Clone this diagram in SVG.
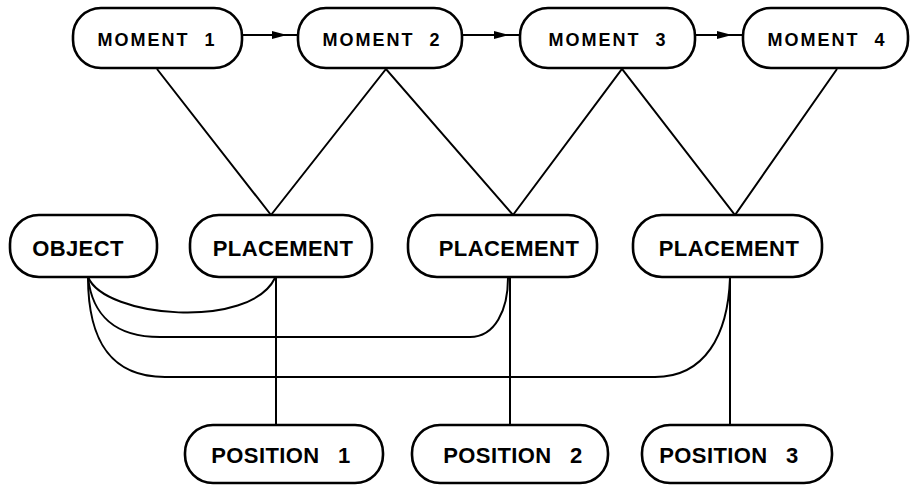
<svg xmlns="http://www.w3.org/2000/svg" width="915" height="486" viewBox="0 0 915 486">
  <style>
    .box { fill: #fff; stroke: #000; stroke-width: 2.6; }
    .wire { fill: none; stroke: #000; stroke-width: 2; }
    .lbl { font-family: "Liberation Sans", Arial, sans-serif; font-weight: bold; fill: #000; text-anchor: middle; }
    .m { font-size: 18px; letter-spacing: 2px; }
    .p { font-size: 22px; letter-spacing: 0.4px; }
  </style>
  <defs>
    <marker id="arrow" markerUnits="userSpaceOnUse" markerWidth="16" markerHeight="10" refX="26" refY="4" orient="auto">
      <path d="M0,0 L15,4 L0,8 z" fill="#000"/>
    </marker>
  </defs>
  <rect width="915" height="486" fill="#fff"/>

  <g id="connectors">
    <!-- time sequence -->
    <path class="wire" d="M242,35 L298,35" marker-end="url(#arrow)"/>
    <path class="wire" d="M462,35 L520,35" marker-end="url(#arrow)"/>
    <path class="wire" d="M695,35 L743,35" marker-end="url(#arrow)"/>
    <!-- moments to placements -->
    <path class="wire" d="M157,69 L271,215 L386,69 L513,215 L622,69 L735,215 L837,69"/>
    <!-- object to placements -->
    <path class="wire" d="M88,277 C105,318 250,330 275,278"/>
    <path class="wire" d="M88,277 C92,315 115,337 160,337 L470,337 C495,337 508,310 508,278"/>
    <path class="wire" d="M88,277 C88,340 110,377 165,377 L655,377 C705,377 728,335 730,278"/>
    <!-- placements to positions -->
    <path class="wire" d="M276,277 L276,425"/>
    <path class="wire" d="M510,277 L510,425"/>
    <path class="wire" d="M730,277 L730,425"/>
  </g>

  <g id="moment1">
    <rect class="box" x="73" y="8" width="169" height="60" rx="28"/>
    <text class="lbl m" x="157" y="46">MOMENT<tspan dx="8"> 1</tspan></text>
  </g>
  <g id="moment2">
    <rect class="box" x="298" y="8" width="164" height="60" rx="28"/>
    <text class="lbl m" x="382" y="46">MOMENT<tspan dx="8"> 2</tspan></text>
  </g>
  <g id="moment3">
    <rect class="box" x="520" y="8" width="175" height="60" rx="28"/>
    <text class="lbl m" x="608" y="46">MOMENT<tspan dx="8"> 3</tspan></text>
  </g>
  <g id="moment4">
    <rect class="box" x="743" y="8" width="165" height="60" rx="28"/>
    <text class="lbl m" x="827" y="46">MOMENT<tspan dx="8"> 4</tspan></text>
  </g>

  <g id="object">
    <rect class="box" x="10" y="215" width="147" height="62" rx="29"/>
    <text class="lbl p" x="78" y="256">OBJECT</text>
  </g>
  <g id="placement1">
    <rect class="box" x="190" y="215" width="182" height="62" rx="29"/>
    <text class="lbl p" x="283" y="256">PLACEMENT</text>
  </g>
  <g id="placement2">
    <rect class="box" x="408" y="215" width="189" height="62" rx="29"/>
    <text class="lbl p" x="509" y="256">PLACEMENT</text>
  </g>
  <g id="placement3">
    <rect class="box" x="633" y="215" width="189" height="62" rx="29"/>
    <text class="lbl p" x="729" y="256">PLACEMENT</text>
  </g>

  <g id="position1">
    <rect class="box" x="185" y="425" width="198" height="58" rx="28"/>
    <text class="lbl p" x="281" y="463">POSITION<tspan dx="12"> 1</tspan></text>
  </g>
  <g id="position2">
    <rect class="box" x="412" y="425" width="196" height="58" rx="28"/>
    <text class="lbl p" x="513" y="463">POSITION<tspan dx="12"> 2</tspan></text>
  </g>
  <g id="position3">
    <rect class="box" x="642" y="425" width="190" height="58" rx="28"/>
    <text class="lbl p" x="729" y="463">POSITION<tspan dx="12"> 3</tspan></text>
  </g>
</svg>
